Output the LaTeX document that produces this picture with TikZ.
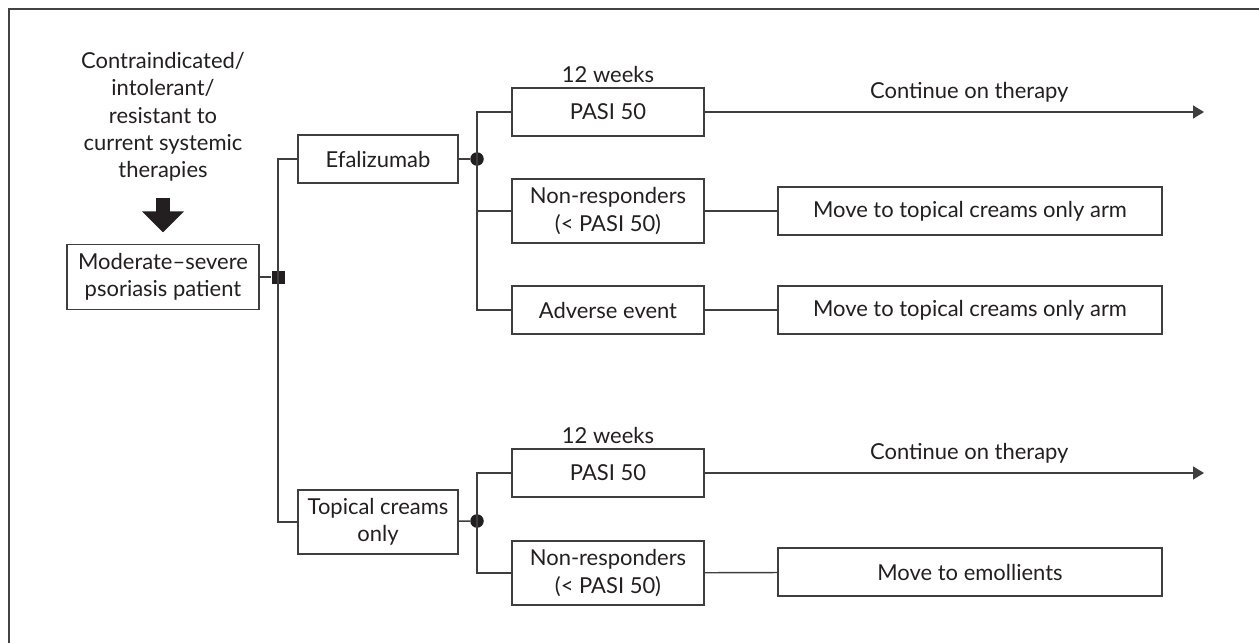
\documentclass[tikz,border=0pt]{standalone}
\usepackage{fontspec}
\setmainfont{Lato}
\usetikzlibrary{arrows.meta,positioning}
\definecolor{lineg}{RGB}{62,62,62}
\definecolor{inkk}{RGB}{35,31,32}

\begin{document}
\begin{tikzpicture}[
  x=0.02cm, y=-0.02cm,
  every node/.style={font=\fontsize{12.5}{15.5}\selectfont, text=inkk},
  box/.style={draw=lineg, line width=0.8pt, align=center, inner sep=2pt,
    minimum height=0.96cm},
  outbox/.style={box, minimum width=3.84cm},
  movebox/.style={box, minimum width=7.68cm},
  link/.style={draw=lineg, line width=0.8pt},
  arr/.style={link, -{Triangle[length=0.22cm, width=0.26cm]}},
  bigarr/.style={draw=inkk, line width=0.3cm, -{Triangle[length=0.42cm, width=0.82cm]}},
  jdot/.style={circle, fill=inkk, inner sep=0pt, minimum size=0.27cm},
  jsq/.style={rectangle, fill=inkk, inner sep=0pt, minimum size=0.26cm}
]
\clip (0,0) rectangle (1259,643);
\draw[draw=inkk!85, line width=1.1pt] (9,9) rectangle (1300,700);

% entry
\node[align=center] (ctx) at (163,117) {Contraindicated/\\intolerant/\\resistant to\\current systemic\\therapies};
\node[box, minimum width=3.84cm, minimum height=1.3cm] (pat) at (163,277) {Moderate–severe\\psoriasis patient};
\draw[bigarr, shorten <=0.2cm, shorten >=0.23cm] (ctx.south) -- (pat.north);

% treatment arms
\node[jsq] (sq) at (278,277) {};
\node[box, minimum width=3.2cm] (efa) at (378,159) {Efalizumab};
\node[box, minimum width=3.2cm, minimum height=1.28cm] (topc) at (378,522) {Topical creams\\only};
\draw[link] (pat) -- (sq);
\draw[link] (efa.west) -| (sq.center) |- (topc.west);

% efalizumab outcomes
\node[jdot] (da) at (477,159) {};
\node[outbox] (pasiA) at (608,112) {PASI 50};
\node[outbox, minimum height=1.28cm] (nonA) at (608,211) {Non-responders\\(< PASI 50)};
\node[outbox] (advA) at (608,310) {Adverse event};
\node[above=-1pt of pasiA] (wkA) {12 weeks};
\node[movebox] (mvA) at (970,211) {Move to topical creams only arm};
\node[movebox] (mvB) at (970,310) {Move to topical creams only arm};
\coordinate (endA) at (1204,112);
\draw[link] (efa) -- (da);
\draw[link] (pasiA.west) -| (da.center) |- (advA.west);
\draw[link] (da.center) |- (nonA.west);
\draw[link] (nonA) -- (mvA);
\draw[link] (advA) -- (mvB);
\draw[arr] (pasiA) -- (endA) node[pos=0.53, above=2pt] (contA) {Continue on therapy};

% topical creams outcomes
\node[jdot] (db) at (477,521) {};
\node[outbox] (pasiB) at (608,473) {PASI 50};
\node[outbox, minimum height=1.28cm] (nonB) at (608,573) {Non-responders\\(< PASI 50)};
\node[above=-1pt of pasiB] (wkB) {12 weeks};
\node[movebox] (emol) at (970,572) {Move to emollients};
\coordinate (endB) at (1204,473);
\draw[link] (topc) -- (db);
\draw[link] (pasiB.west) -| (db.center) |- (nonB.west);
\draw[link] (nonB) -- (emol);
\draw[arr] (pasiB) -- (endB) node[pos=0.53, above=2pt] (contB) {Continue on therapy};
\end{tikzpicture}
\end{document}
